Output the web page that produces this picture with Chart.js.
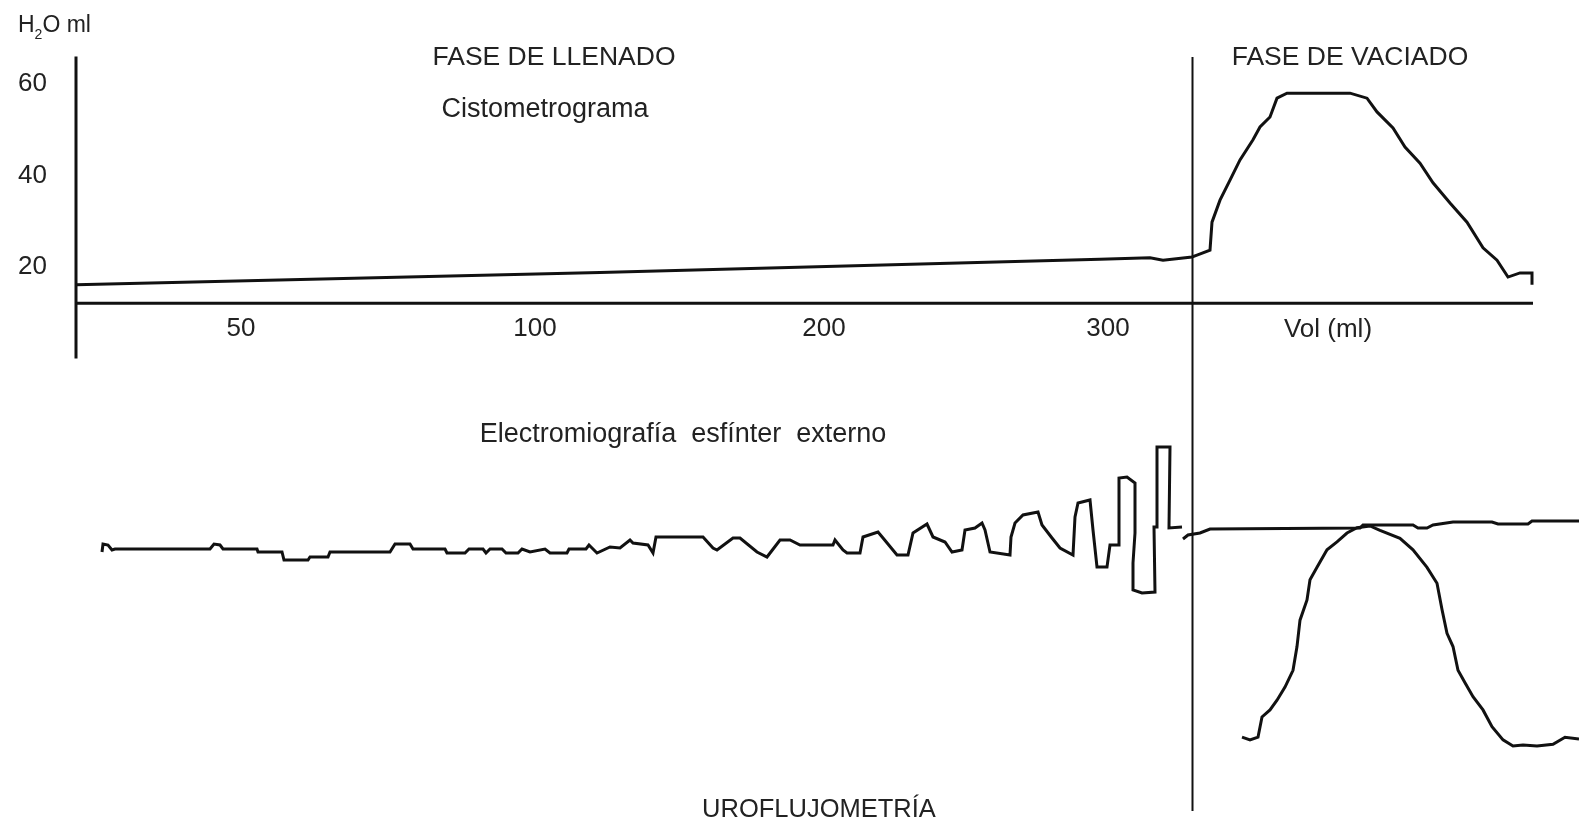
<!DOCTYPE html>
<html>
<head>
<meta charset="utf-8">
<title>Cistometría, EMG y uroflujometría</title>
<script src="https://cdn.jsdelivr.net/npm/chart.js@4.4.1/dist/chart.umd.min.js"></script>
<style>
  html, body { margin: 0; padding: 0; background: #fff; }
  #wrap { width: 1579px; height: 823px; position: relative; }
</style>
</head>
<body>
<div id="wrap"><canvas id="urodinamia"></canvas></div>
<script>
// time runs in arbitrary units from the start of filling (t = 0 at the pressure axis)
const pressureTicks = [20, 40, 60];
const volumeTickLabels = ["50", "100", "200", "300"];
const volumeTickTimes = [16.5, 45.9, 74.8, 103.2];
const voidStart = 111.6;

// Cistometrograma (cmH2O)
const cmgTime = [0, 52.4, 102.4, 107.4, 108.7, 111.6, 112.1, 113.4, 113.6, 114.4,
  115.4, 116.4, 117.7, 118.4, 119.4, 120.1, 121.1, 127.4, 129.1, 130.1,
  131.7, 132.9, 134.4, 135.7, 137.4, 139.1, 140.7, 142.1, 143.2, 144.4,
  145.6, 145.6];
const cmgPressure = [16.1, 18.8, 21.7, 22.0, 21.5, 22.2, 22.6, 23.7, 29.8, 34.6,
  39.0, 43.4, 47.8, 50.6, 52.8, 56.9, 58.0, 58.0, 56.9, 53.9,
  50.4, 46.2, 42.7, 38.4, 34.0, 29.8, 24.2, 21.5, 17.8, 18.7,
  18.7, 16.1];

// Electromiografía esfínter externo, fase de llenado (µV, arbitrary)
const emgFillTime = [2.6, 2.7, 3.2, 3.6, 3.9, 13.4, 13.8, 14.4, 14.7, 18.1,
  18.2, 20.6, 20.8, 23.2, 23.4, 25.2, 25.4, 31.4, 31.9, 33.4,
  33.7, 36.9, 37.1, 38.9, 39.3, 40.7, 41.0, 41.4, 42.6, 43.0,
  44.2, 44.6, 45.4, 46.9, 47.4, 49.1, 49.3, 51.0, 51.3, 52.1,
  53.4, 54.4, 55.4, 55.7, 57.2, 57.7, 58.0, 62.7, 63.7, 64.1,
  65.7, 66.4, 68.1, 69.1, 70.4, 71.4, 72.4, 75.7, 75.9, 76.7,
  77.1, 78.4, 78.7, 80.2, 80.7, 82.1, 83.2, 83.7, 85.1, 85.7,
  86.9, 87.6, 88.6, 88.9, 89.9, 90.6, 90.9, 91.4, 93.4, 93.5,
  93.9, 94.7, 96.2, 96.6, 97.6, 98.4, 99.7, 99.9, 100.2, 101.4,
  101.7, 102.1, 103.1, 103.4, 104.2, 104.3, 105.1, 105.9, 105.9, 105.7,
  105.7, 106.6, 107.9, 107.8, 108.1, 108.1, 109.4, 109.3, 110.6];
const emgFillAmp = [-1.5, 2.5, 2, -0.5, 0, 0, 2.5, 2, 0, 0,
  -1.5, -1.5, -5.5, -5.5, -4, -4, -1.5, -1.5, 2.5, 2.5,
  0, 0, -2, -2, 0, 0, -2, 0, 0, -2,
  -2, 0, -1.5, 0, -2, -2, 0, 0, 2, -2,
  1, 0.5, 4.5, 3, 2, -2, 6, 6, 0.5, -0.5,
  5.5, 5.5, -1.5, -4, 4.5, 4.5, 2, 2, 4.5, -0.5,
  -2, -2, 6, 8.5, 5.5, -3, -3, 8, 12.5, 6,
  3.5, -1.5, -0.5, 9.5, 10.5, 13, 9.5, -1.5, -3, 6,
  13, 17, 18.5, 12, 5.5, 0.5, -3, 16, 23, 24.5,
  9.5, -9, -9, 2, 2, 35.5, 36, 33, 8, -7,
  -20.5, -22, -21.5, 11, 11, 51, 51, 10.5, 11];

// EMG, fase de vaciado
const emgVoidTime = [110.7, 111.2, 112.4, 113.4, 128.4, 128.7, 133.7, 134.2, 135.1, 135.7,
  137.7, 141.6, 142.2, 145.2, 145.6, 150.3];
const emgVoidAmp = [5, 7, 8, 10, 10.5, 12, 12, 10.5, 10.5, 12,
  13.5, 13.5, 12.5, 12.5, 14, 14];

// Uroflujometría (ml/s)
const flowTime = [116.6, 117.4, 118.2, 118.6, 119.4, 120.1, 120.9, 121.7, 122.1, 122.4,
  123.1, 123.4, 124.1, 125.1, 126.1, 127.1, 128.1, 129.4, 130.4, 132.4,
  133.7, 135.1, 136.1, 136.6, 137.1, 137.7, 138.2, 138.9, 139.7, 140.7,
  141.6, 142.7, 143.7, 144.7, 146.1, 147.7, 148.9, 150.3];
const flowRate = [1.0, 0.7, 1.0, 3.3, 4.1, 5.2, 6.7, 8.6, 11.3, 14.3,
  16.6, 18.9, 20.3, 22.3, 23.2, 24.2, 24.8, 25.0, 24.5, 23.6,
  22.3, 20.3, 18.5, 15.5, 12.8, 11.3, 8.6, 7.2, 5.6, 4.1,
  2.2, 0.7, 0, 0.1, 0, 0.2, 1.0, 0.8];

const FONT = '"Liberation Sans", Arial, sans-serif';
const INK = "#111";
const TEXT = "#222";
const volAxisAt = 12.1; // pressure level where the volume axis is drawn

const toPoints = (xs, ys) => xs.map((t, i) => ({ x: t, y: ys[i] }));

// axis lines, phase separator and captions
const schematic = {
  id: "schematic",
  beforeDatasetsDraw(chart) {
    const { ctx, scales: { x, y } } = chart;
    const x0 = x.getPixelForValue(0);
    ctx.save();
    ctx.strokeStyle = INK;
    ctx.lineWidth = 3;
    ctx.beginPath();
    ctx.moveTo(x0, y.getPixelForValue(66));
    ctx.lineTo(x0, y.getPixelForValue(0));
    ctx.moveTo(x0, y.getPixelForValue(volAxisAt));
    ctx.lineTo(x.getPixelForValue(145.7), y.getPixelForValue(volAxisAt));
    ctx.stroke();

    const xs = Math.round(x.getPixelForValue(voidStart)) + 0.5;
    ctx.lineWidth = 2;
    ctx.beginPath();
    ctx.moveTo(xs, 57);
    ctx.lineTo(xs, 811);
    ctx.stroke();
    ctx.restore();
  },
  afterDraw(chart) {
    const ctx = chart.ctx;
    ctx.save();
    ctx.fillStyle = TEXT;
    ctx.textBaseline = "alphabetic";
    const captions = [
      ["FASE DE LLENADO", 554, 65, 26.5],
      ["Cistometrograma", 545, 117, 27],
      ["FASE DE VACIADO", 1350, 65, 26.5],
      ["Vol (ml)", 1328, 337, 26],
      ["Electromiografía  esfínter  externo", 683, 442, 27],
      ["UROFLUJOMETRÍA", 819, 817, 25.5]
    ];
    ctx.textAlign = "center";
    captions.forEach(([txt, cx, by, size]) => {
      ctx.font = `${size}px ${FONT}`;
      ctx.fillText(txt, cx, by);
    });

    // H2O ml unit label with subscript
    ctx.textAlign = "left";
    let cx = 18;
    ctx.font = `23px ${FONT}`;
    ctx.fillText("H", cx, 32);
    cx += ctx.measureText("H").width;
    ctx.font = `14px ${FONT}`;
    ctx.fillText("2", cx, 39);
    cx += ctx.measureText("2").width;
    ctx.font = `23px ${FONT}`;
    ctx.fillText("O ml", cx, 32);
    ctx.restore();
  }
};

const line = (label, data, yAxisID) => ({
  label,
  data,
  yAxisID,
  borderColor: INK,
  borderWidth: 3,
  pointRadius: 0,
  fill: false,
  tension: 0
});

new Chart(document.getElementById("urodinamia"), {
  type: "line",
  data: {
    datasets: [
      line("Cistometrograma", toPoints(cmgTime, cmgPressure), "y"),
      line("EMG llenado", toPoints(emgFillTime, emgFillAmp), "yEmg"),
      line("EMG vaciado", toPoints(emgVoidTime, emgVoidAmp), "yEmg"),
      line("Uroflujometría", toPoints(flowTime, flowRate), "yFlow")
    ]
  },
  options: {
    responsive: true,
    maintainAspectRatio: false,
    animation: false,
    layout: { padding: 0 },
    plugins: {
      legend: { display: false },
      tooltip: { enabled: false }
    },
    scales: {
      x: { type: "linear", min: 0, max: 150.3, display: false },
      xVol: {
        type: "linear",
        axis: "x",
        min: 0,
        max: 150.3,
        position: { y: volAxisAt },
        afterBuildTicks: s => { s.ticks = volumeTickTimes.map(v => ({ value: v })); },
        grid: { display: false, drawTicks: false },
        border: { display: false },
        ticks: {
          autoSkip: false,
          maxRotation: 0,
          minRotation: 0,
          padding: 10,
          color: TEXT,
          font: { size: 26, family: FONT },
          callback: (v, i) => volumeTickLabels[i]
        }
      },
      y: {
        type: "linear",
        position: "left",
        min: -101.53,
        max: 78.36,
        afterBuildTicks: s => { s.ticks = pressureTicks.map(v => ({ value: v })); },
        afterFit: s => { s.width = 76; s.paddingTop = 0; s.paddingBottom = 0; },
        grid: { display: false, drawTicks: false },
        border: { display: false },
        ticks: { padding: 29, color: TEXT, font: { size: 26, family: FONT } }
      },
      yEmg: { type: "linear", axis: "y", min: -137, max: 274.5, display: false },
      yFlow: { type: "linear", axis: "y", min: -8.75, max: 84.77, display: false }
    }
  },
  plugins: [schematic]
});
</script>
</body>
</html>
